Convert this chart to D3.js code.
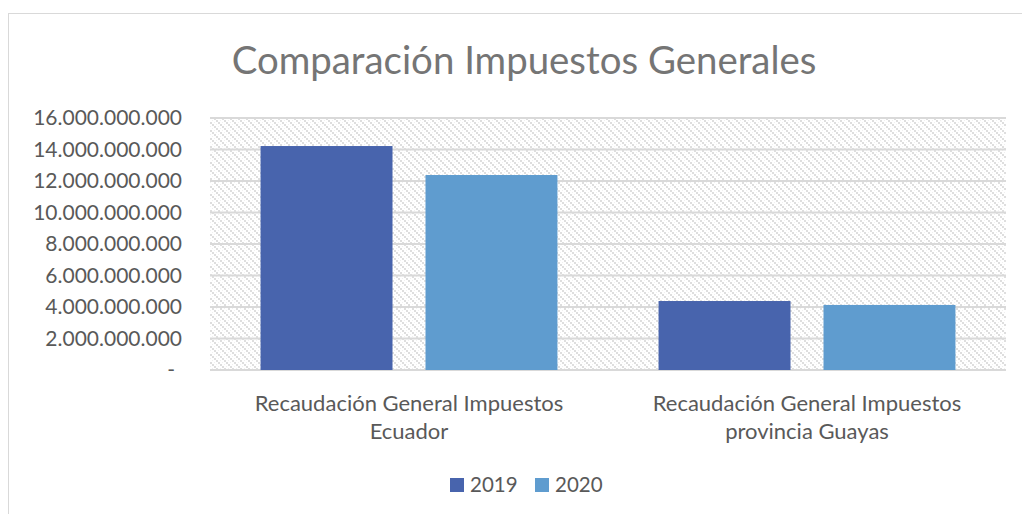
<!DOCTYPE html>
<html lang="es">
<head>
    <meta charset="UTF-8">
    <title>Comparación Impuestos Generales</title>
    <script src="https://d3js.org/d3.v7.min.js"></script>
    <style>
        body { margin: 0; background: #ffffff; font-family: 'Lato', 'Open Sans', sans-serif; }
        .tick text { fill: #595959; }
    </style>
</head>
<body>
    <svg width="1022" height="514"></svg>

    <script>
        // datos del grafico
        const categorias = [
            ["Recaudación General Impuestos", "Ecuador"],
            ["Recaudación General Impuestos", "provincia Guayas"]
        ];
        const anios = ["2019", "2020"];
        const valores2019 = [14220000000, 4380000000];
        const valores2020 = [12380000000, 4130000000];
        const ticksY = [0, 2e9, 4e9, 6e9, 8e9, 10e9, 12e9, 14e9, 16e9];
        const colores = ["#4864ad", "#5f9ccf"];

        const svg = d3.select("svg");
        const margin = { left: 210, right: 16, top: 118, bottom: 144 };
        const width = 1022, height = 514;

        // borde del area del grafico
        svg.append("rect")
            .attr("x", 8.5).attr("y", 13.5)
            .attr("width", 1030).attr("height", 520)
            .attr("fill", "#fff")
            .attr("stroke", "#d9d9d9");

        // patron de trama del fondo
        const defs = svg.append("defs");
        const pat = defs.append("pattern")
            .attr("id", "trama")
            .attr("patternUnits", "userSpaceOnUse")
            .attr("width", 8).attr("height", 8);
        pat.append("rect").attr("width", 8).attr("height", 8).attr("fill", "#fff");
        for (let i = 0; i < 8; i += 2) {
            pat.append("rect").attr("x", i).attr("y", i).attr("width", 2).attr("height", 2).attr("fill", "#dedede");
            pat.append("rect").attr("x", (i + 4) % 8).attr("y", i).attr("width", 1).attr("height", 1).attr("fill", "#f0f0f0");
        }

        const y = d3.scaleLinear()
            .domain([0, 16e9])
            .range([height - margin.bottom, margin.top]);

        const x0 = d3.scaleBand()
            .domain(d3.range(categorias.length))
            .range([margin.left, width - margin.right])
            .paddingInner(0.254)
            .paddingOuter(0.127);

        const x1 = d3.scaleBand()
            .domain(anios)
            .range([0, x0.bandwidth()])
            .paddingInner(0.2);

        svg.append("rect")
            .attr("x", margin.left).attr("y", margin.top)
            .attr("width", width - margin.right - margin.left)
            .attr("height", y(0) - margin.top)
            .attr("fill", "url(#trama)");

        // lineas de cuadricula
        svg.append("g")
            .selectAll("line")
            .data(ticksY)
            .join("line")
            .attr("x1", margin.left).attr("x2", width - margin.right)
            .attr("y1", d => y(d)).attr("y2", d => y(d))
            .attr("stroke", "#d9d9d9")
            .attr("stroke-width", 2);

        // eje Y
        const fmt = d => d === 0 ? "-" : d3.format(",")(d).replace(/,/g, ".");
        const ejeY = svg.append("g")
            .attr("transform", `translate(${margin.left - 28},0)`)
            .call(d3.axisLeft(y).tickValues(ticksY).tickFormat(fmt).tickSize(0).tickPadding(0));
        ejeY.select(".domain").remove();
        ejeY.selectAll("text").attr("font-size", 21).attr("font-family", "Lato, sans-serif");
        ejeY.selectAll(".tick").filter(d => d === 0).select("text").attr("dx", -7);

        // barras
        const series = [valores2019, valores2020];
        const grupos = svg.append("g")
            .selectAll("g")
            .data(categorias.map((c, i) => i))
            .join("g")
            .attr("transform", i => `translate(${x0(i)},0)`);

        grupos.selectAll("rect")
            .data(i => anios.map((a, k) => ({ anio: a, valor: series[k][i], k })))
            .join("rect")
            .attr("x", d => x1(d.anio))
            .attr("y", d => y(d.valor))
            .attr("width", x1.bandwidth())
            .attr("height", d => y(0) - y(d.valor))
            .attr("fill", d => colores[d.k]);

        // etiquetas de categoria
        const etiquetas = svg.append("g")
            .selectAll("text")
            .data(categorias)
            .join("text")
            .attr("x", (d, i) => x0(i) + x0.bandwidth() / 2)
            .attr("y", 411)
            .attr("text-anchor", "middle")
            .attr("font-size", 22)
            .attr("fill", "#595959");
        etiquetas.selectAll("tspan")
            .data(d => d)
            .join("tspan")
            .attr("x", function () { return this.parentNode.getAttribute("x"); })
            .attr("dy", (d, i) => i === 0 ? 0 : 28)
            .text(d => d);

        // titulo
        svg.append("text")
            .attr("x", 524).attr("y", 74)
            .attr("text-anchor", "middle")
            .attr("font-size", 38.4)
            .attr("fill", "#757575")
            .text("Comparación Impuestos Generales");

        // leyenda
        const leyenda = svg.append("g")
            .selectAll("g")
            .data(anios)
            .join("g")
            .attr("transform", (d, i) => `translate(${450 + i * 85},478)`);
        leyenda.append("rect")
            .attr("width", 14).attr("height", 14)
            .attr("fill", (d, i) => colores[i]);
        leyenda.append("text")
            .attr("x", 20).attr("y", 14)
            .attr("font-size", 20.5)
            .attr("fill", "#595959")
            .text(d => d);
    </script>
</body>
</html>
